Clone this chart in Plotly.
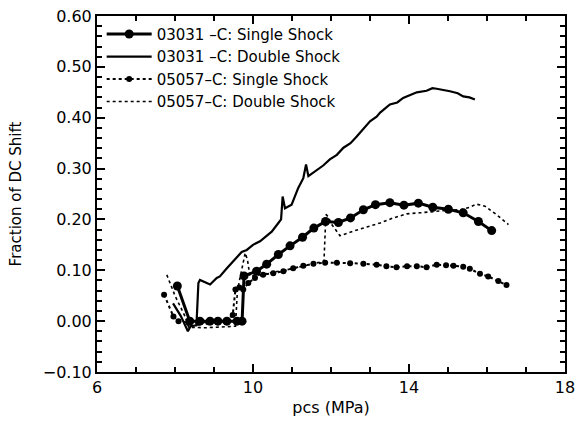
import plotly.graph_objects as go

# 03031-C: Single Shock
s1_x = [8.06, 8.38, 8.64, 8.90, 9.10, 9.33, 9.59, 9.72, 9.77, 10.09, 10.35, 10.65, 10.95, 11.27, 11.56,
        11.86, 12.19, 12.50, 12.83, 13.14, 13.51, 13.87, 14.24, 14.61, 15.01, 15.39, 15.78, 16.12]
s1_y = [0.069, 0.000, 0.000, 0.000, 0.000, 0.000, 0.000, 0.000, 0.089, 0.098, 0.112, 0.131, 0.148, 0.165, 0.183,
        0.196, 0.194, 0.203, 0.219, 0.229, 0.233, 0.228, 0.232, 0.224, 0.220, 0.213, 0.196, 0.178]

# 03031-C: Double Shock
s2_x = [7.95, 8.15, 8.33, 8.40, 8.55, 8.60, 8.64, 8.73, 8.90, 9.07, 9.15, 9.33, 9.50, 9.71, 9.84, 10.00, 10.18,
        10.30, 10.48, 10.65, 10.72, 10.76, 10.82, 10.99, 11.16, 11.29, 11.36, 11.42, 11.55, 11.67, 11.80, 11.97,
        12.15, 12.32, 12.50, 12.66, 12.83, 13.00, 13.17, 13.26, 13.51, 13.70, 13.85, 14.00, 14.20, 14.45,
        14.60, 14.71, 14.90, 15.05, 15.25, 15.39, 15.55, 15.69]
s2_y = [0.035, 0.010, -0.020, -0.010, -0.008, 0.075, 0.081, 0.078, 0.072, 0.085, 0.088, 0.104, 0.118, 0.136, 0.140, 0.150, 0.157,
        0.164, 0.176, 0.193, 0.200, 0.245, 0.222, 0.229, 0.262, 0.281, 0.308, 0.285, 0.292, 0.298, 0.306, 0.318,
        0.327, 0.341, 0.350, 0.363, 0.378, 0.393, 0.402, 0.410, 0.426, 0.430, 0.439, 0.444, 0.450, 0.453,
        0.458, 0.457, 0.455, 0.452, 0.448, 0.442, 0.440, 0.436]

# 05057-C: Single Shock
s3_x = [7.72, 7.96, 8.09, 8.35, 8.60, 8.85, 9.10, 9.30, 9.48, 9.55, 9.65, 9.75, 9.88, 10.05, 10.26, 10.52,
        10.78, 11.03, 11.29, 11.55, 11.85, 12.15, 12.49, 12.83, 13.17, 13.42, 13.68, 13.95, 14.20, 14.45,
        14.71, 14.95, 15.14, 15.39, 15.56, 15.82, 16.03, 16.29, 16.50]
s3_y = [0.052, 0.009, 0.000, -0.003, -0.003, -0.002, -0.002, 0.000, 0.012, 0.062, 0.066, 0.062, 0.075, 0.085, 0.091, 0.094,
        0.098, 0.104, 0.109, 0.113, 0.115, 0.115, 0.114, 0.113, 0.111, 0.108, 0.106, 0.108, 0.108, 0.106,
        0.111, 0.110, 0.109, 0.107, 0.103, 0.093, 0.088, 0.079, 0.071]

# 05057-C: Double Shock
s4_x = [7.79, 8.00, 8.26, 8.35, 8.80, 9.20, 9.55, 9.60, 9.70, 9.80, 9.86, 9.92, 10.10, 10.50, 11.00, 11.50,
        11.82, 11.87, 11.93, 12.02, 12.23, 12.57, 12.91, 13.26, 13.60, 13.94, 14.28, 14.62, 15.00, 15.31,
        15.56, 15.73, 15.95, 16.25, 16.55]
s4_y = [0.091, 0.050, 0.009, -0.012, -0.013, -0.012, -0.010, 0.060, 0.100, 0.134, 0.120, 0.088, 0.090, 0.096, 0.103, 0.112,
        0.118, 0.210, 0.205, 0.190, 0.168, 0.177, 0.185, 0.193, 0.203, 0.211, 0.213, 0.216, 0.218, 0.219,
        0.224, 0.230, 0.226, 0.209, 0.190]

names = ["03031 \u2013C: Single Shock", "03031 \u2013C: Double Shock",
         "05057\u2013C: Single Shock", "05057\u2013C: Double Shock"]

font_family = "DejaVu Sans"
fig = go.Figure()
fig.add_trace(go.Scatter(x=s1_x, y=s1_y, name=names[0], mode="lines+markers",
                         line=dict(color="black", width=3), marker=dict(size=9, color="black")))
fig.add_trace(go.Scatter(x=s2_x, y=s2_y, name=names[1], mode="lines",
                         line=dict(color="black", width=2.2)))
fig.add_trace(go.Scatter(x=s3_x, y=s3_y, name=names[2], mode="lines+markers",
                         line=dict(color="black", width=2, dash="dot"), marker=dict(size=6, color="black")))
fig.add_trace(go.Scatter(x=s4_x, y=s4_y, name=names[3], mode="lines",
                         line=dict(color="black", width=1.6, dash="dot")))

axis_common = dict(showline=True, linecolor="black", linewidth=2, mirror="ticks",
                   ticks="inside", ticklen=8, tickwidth=2, tickcolor="black",
                   showgrid=False, zeroline=False,
                   tickfont=dict(family=font_family, size=16, color="black"))

fig.update_xaxes(range=[6, 18], tickvals=[6, 10, 14, 18],
                 minor=dict(dtick=1, ticks="inside", ticklen=5, tickwidth=1.5, tickcolor="black"),
                 title=dict(text="pcs (MPa)", font=dict(family=font_family, size=16, color="black"), standoff=6),
                 **axis_common)
fig.update_yaxes(range=[-0.1, 0.6], dtick=0.1, tick0=0, tickformat=".2f",
                 minor=dict(dtick=0.02, ticks="inside", ticklen=5, tickwidth=1.5, tickcolor="black"),
                 title=dict(text="Fraction of DC Shift", font=dict(family=font_family, size=15, color="black"), standoff=18),
                 **axis_common)

fig.update_layout(width=579, height=428, margin=dict(l=97, r=14, t=16, b=56, autoexpand=False),
                  plot_bgcolor="white", paper_bgcolor="white",
                  font=dict(family=font_family, color="black"),
                  legend=dict(x=0.01, y=0.995, xanchor="left", yanchor="top", bgcolor="rgba(0,0,0,0)",
                              font=dict(family=font_family, size=15, color="black"),
                              tracegroupgap=0, itemwidth=45))

fig.write_html("out.html")
